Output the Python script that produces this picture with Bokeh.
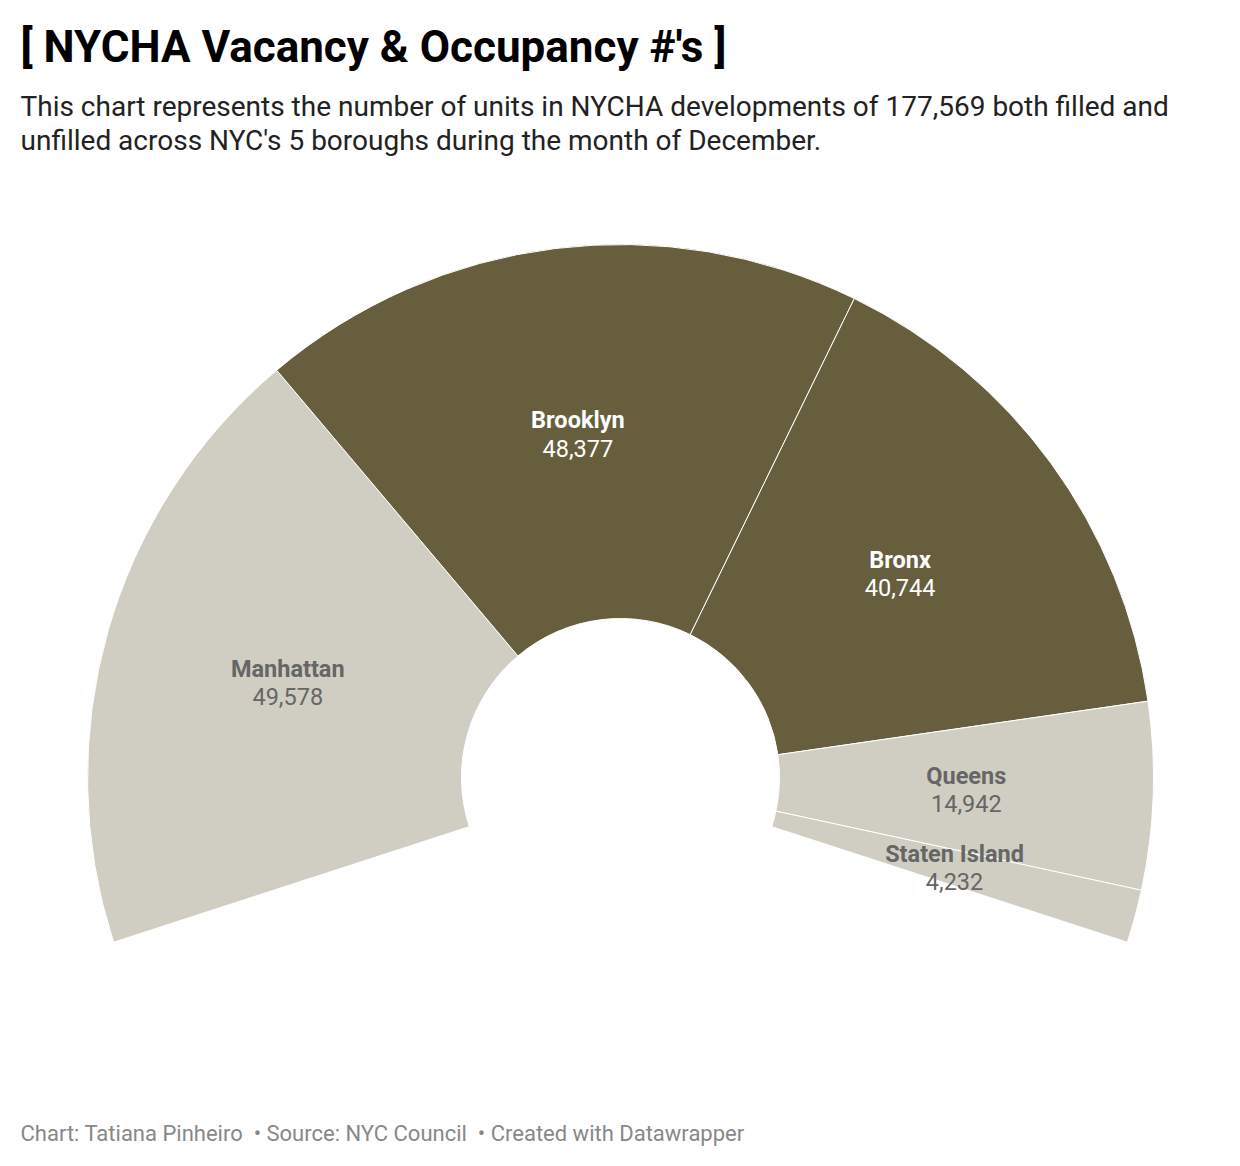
import numpy as np
from bokeh.plotting import figure
from bokeh.models import Range1d, ColumnDataSource
from bokeh.core.properties import value
from bokeh.embed import file_html
from bokeh.resources import INLINE

boroughs = ["Manhattan", "Brooklyn", "Bronx", "Queens", "Staten Island"]
units = [49578, 48377, 40744, 14942, 4232]
labels = ["49,578", "48,377", "40,744", "14,942", "4,232"]
dark = [False, True, True, False, False]

title = "[ NYCHA Vacancy & Occupancy #'s ]"
subtitle = ["This chart represents the number of units in NYCHA developments of 177,569 both filled and",
            "unfilled across NYC's 5 boroughs during the month of December."]
footer = "Chart: Tatiana Pinheiro \u00a0\u2022 Source: NYC Council \u00a0\u2022 Created with Datawrapper"

W, H = 1240, 1166
CX, CY = 620, H - 777
R_IN, R_OUT = 159, 533
START, SPAN = 198.0, 216.0

DARK_C = "#675e3e"
LIGHT_C = "#d0cec2"

p = figure(width=W, height=H, output_backend="svg", toolbar_location=None,
           x_range=Range1d(0, W), y_range=Range1d(0, H), min_border=0)
p.axis.visible = False
p.grid.visible = False
p.outline_line_color = None
p.background_fill_color = "white"
p.border_fill_color = "white"

vals = np.array(units, dtype=float)
frac = vals / vals.sum()
cum = np.concatenate([[0], np.cumsum(frac)[:-1]])
a0 = START - cum * SPAN
a1 = a0 - frac * SPAN
mid = (a0 + a1) / 2
rmid = (R_IN + R_OUT) / 2
lx = CX + rmid * np.cos(np.radians(mid))
ly = CY + rmid * np.sin(np.radians(mid))

src = ColumnDataSource(dict(
    start=np.radians(a1), end=np.radians(a0),
    color=[DARK_C if d else LIGHT_C for d in dark],
    name=boroughs, val=labels,
    lx=lx, ly_name=ly + 14, ly_val=ly - 14,
    tc=["white" if d else "#666666" for d in dark],
))

p.annular_wedge(x=CX, y=CY, inner_radius=R_IN, outer_radius=R_OUT,
                start_angle="start", end_angle="end",
                fill_color="color", line_color="white", line_width=1, source=src)

p.text(x="lx", y="ly_name", text="name", source=src, text_color="tc",
       text_font=value("Roboto"), text_font_style="bold", text_font_size="23.5px",
       text_align="center", text_baseline="middle")
p.text(x="lx", y="ly_val", text="val", source=src, text_color="tc",
       text_font=value("Roboto"), text_font_size="23.5px",
       text_align="center", text_baseline="middle")

p.text(x=[20], y=[H - 46], text=[title], text_font=value("Roboto"),
       text_font_style="bold", text_font_size="44px", text_color="#000000",
       text_align="left", text_baseline="middle")
p.text(x=[20, 20], y=[H - 106, H - 140], text=subtitle, text_font=value("Roboto"),
       text_font_size="28px", text_color="#222222",
       text_align="left", text_baseline="middle")
p.text(x=[20], y=[H - 1133], text=[footer], text_font=value("Roboto"),
       text_font_size="22px", text_color="#888888",
       text_align="left", text_baseline="middle")

open("out.html", "w").write(file_html(p, INLINE))
